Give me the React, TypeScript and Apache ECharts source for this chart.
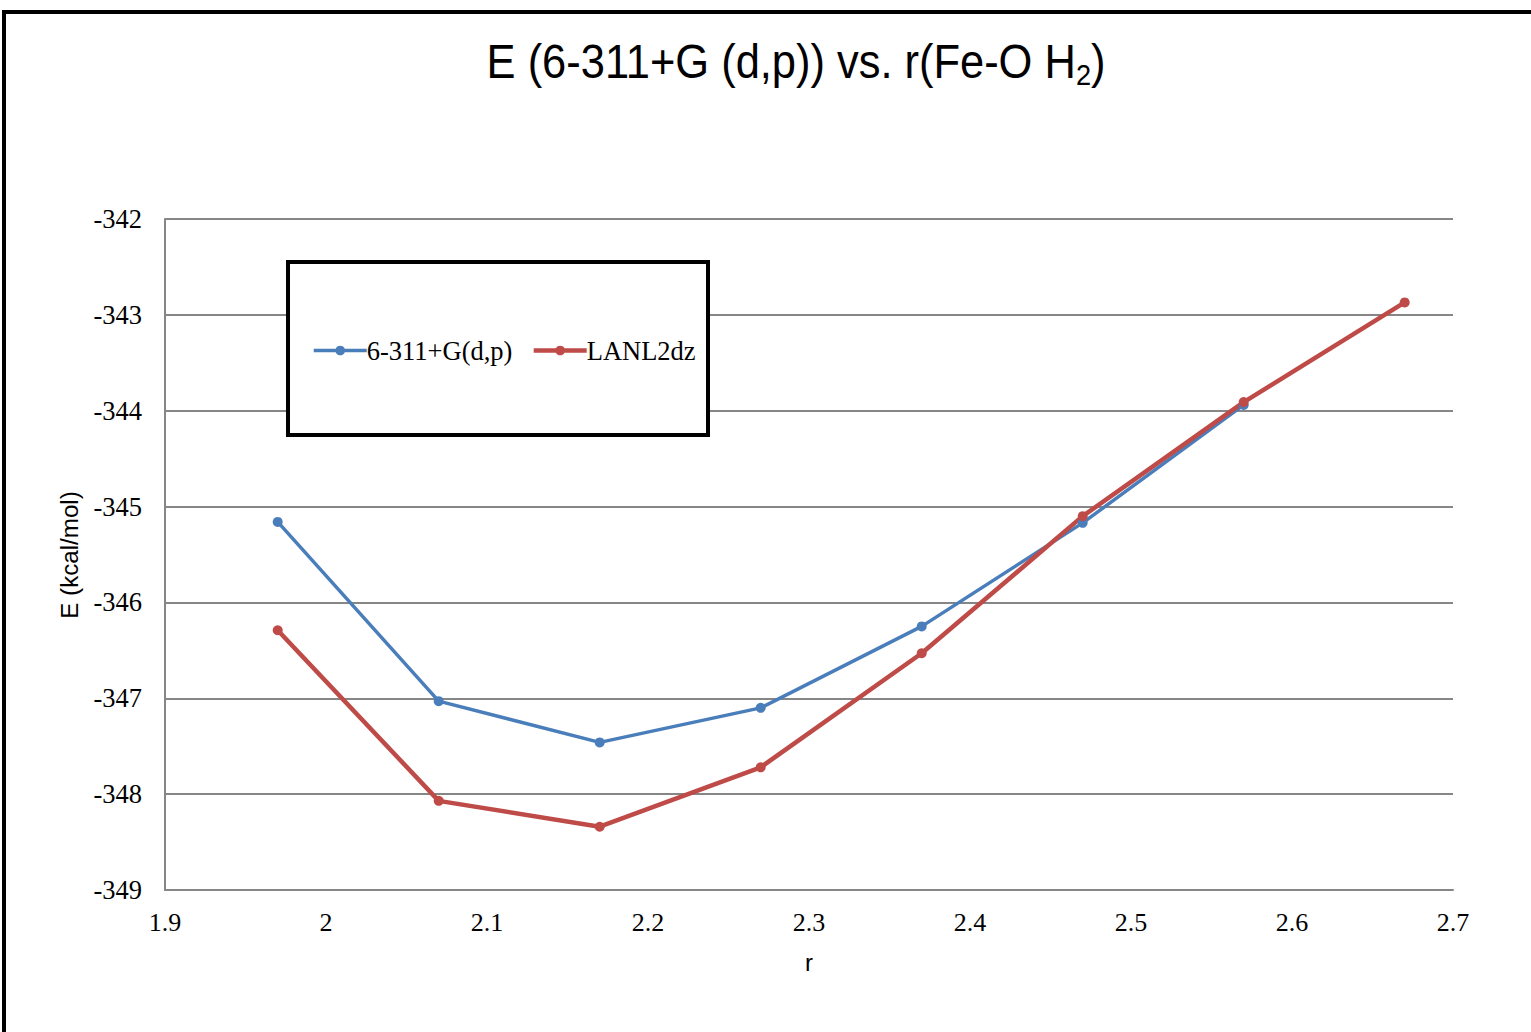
import React, { useEffect, useRef } from "react";
import * as echarts from "echarts";

const rValues = [1.97, 2.07, 2.17, 2.27, 2.37, 2.47, 2.57, 2.67];
const energyBasisA = [-345.16, -347.03, -347.46, -347.10, -346.25, -345.17, -343.94];
const energyLanl = [-346.29, -348.07, -348.34, -347.72, -346.53, -345.10, -343.91, -342.87];
const seriesNames = ["6-311+G(d,p)", "LANL2dz"];
const yTicks = [-349, -348, -347, -346, -345, -344, -343, -342];
const xTicks = [1.9, 2.0, 2.1, 2.2, 2.3, 2.4, 2.5, 2.6, 2.7];

const SANS = "'Liberation Sans', Arial, sans-serif";
const SERIF = "'Liberation Serif', 'Times New Roman', serif";
const BLUE = "#4a7ebb";
const RED = "#be4b48";

export default function App() {
  const ref = useRef<HTMLDivElement>(null);
  useEffect(() => {
    if (!ref.current) return;
    const chart = echarts.init(ref.current, undefined, { renderer: "svg" });
    const pairs = (ys: number[]) => ys.map((y, i) => [rValues[i], y]);
    chart.setOption({
      animation: false,
      backgroundColor: "#ffffff",
      grid: { left: 165, right: 78, top: 219, bottom: 142, containLabel: false },
      graphic: [
        {
          type: "rect",
          shape: { x: 4, y: 12, width: 1600, height: 1100 },
          style: { fill: "none", stroke: "#000", lineWidth: 4 },
          silent: true,
        },
        {
          type: "text",
          x: 796,
          y: 62,
          scaleX: 0.905,
          style: {
            text: "{m|E (6-311+G (d,p)) vs. r(Fe-O H}{s|2}{m|)}",
            align: "center",
            verticalAlign: "middle",
            rich: {
              m: { fontFamily: SANS, fontSize: 48, fill: "#000" },
              s: { fontFamily: SANS, fontSize: 30, fill: "#000", padding: [26, 0, 0, 0] },
            },
          },
        },
        {
          type: "text",
          x: 70,
          y: 555,
          rotation: Math.PI / 2,
          scaleX: 1.05,
          style: {
            text: "E (kcal/mol)",
            align: "center",
            verticalAlign: "middle",
            fontFamily: SANS,
            fontSize: 23,
            fill: "#000",
          },
        },
        {
          type: "rect",
          z: 5,
          shape: { x: 288, y: 262, width: 420, height: 173 },
          style: { fill: "#fff", stroke: "#000", lineWidth: 4 },
        },
      ],
      legend: {
        z: 10,
        left: 307,
        top: 332,
        itemWidth: 53,
        itemHeight: 12,
        itemGap: 19,
        textStyle: { fontFamily: SERIF, fontSize: 26.5, color: "#000", padding: [0, 0, 0, -5] },
        data: [
          { name: seriesNames[0], lineStyle: { width: 3.5, color: BLUE }, itemStyle: { color: BLUE } },
          { name: seriesNames[1], lineStyle: { width: 4.5, color: RED }, itemStyle: { color: RED } },
        ],
      },
      xAxis: {
        type: "value",
        min: 1.9,
        max: 2.7,
        interval: 0.1,
        name: "r",
        nameLocation: "middle",
        nameGap: 60,
        nameTextStyle: { fontFamily: SANS, fontSize: 24, color: "#000" },
        axisLine: { show: true, lineStyle: { color: "#868686", width: 2 } },
        axisTick: { show: false },
        splitLine: { show: false },
        axisLabel: {
          margin: 19,
          fontFamily: SERIF,
          fontSize: 26,
          color: "#000",
          formatter: (v: number) => {
            const t = xTicks.find((k) => Math.abs(k - v) < 1e-6);
            return String(Math.round((t ?? v) * 10) / 10);
          },
        },
      },
      yAxis: {
        type: "value",
        min: -349,
        max: -342,
        interval: 1,
        axisLine: { show: true, lineStyle: { color: "#868686", width: 2 } },
        axisTick: { show: false },
        splitLine: { show: true, lineStyle: { color: "#868686", width: 2 } },
        axisLabel: {
          margin: 23,
          fontFamily: SERIF,
          fontSize: 26.5,
          color: "#000",
          formatter: (v: number) => (yTicks.includes(v) ? String(v) : ""),
        },
      },
      series: [
        {
          name: seriesNames[0],
          type: "line",
          data: pairs(energyBasisA),
          color: BLUE,
          lineStyle: { width: 3.5, color: BLUE },
          itemStyle: { color: BLUE },
          symbol: "circle",
          symbolSize: 10,
          showSymbol: true,
        },
        {
          name: seriesNames[1],
          type: "line",
          data: pairs(energyLanl),
          color: RED,
          lineStyle: { width: 4.5, color: RED },
          itemStyle: { color: RED },
          symbol: "circle",
          symbolSize: 10,
          showSymbol: true,
        },
      ],
    });
    return () => chart.dispose();
  }, []);
  return (
    <div
      ref={ref}
      style={{ position: "fixed", left: 0, top: 0, width: 1531, height: 1032, background: "#fff" }}
    />
  );
}
